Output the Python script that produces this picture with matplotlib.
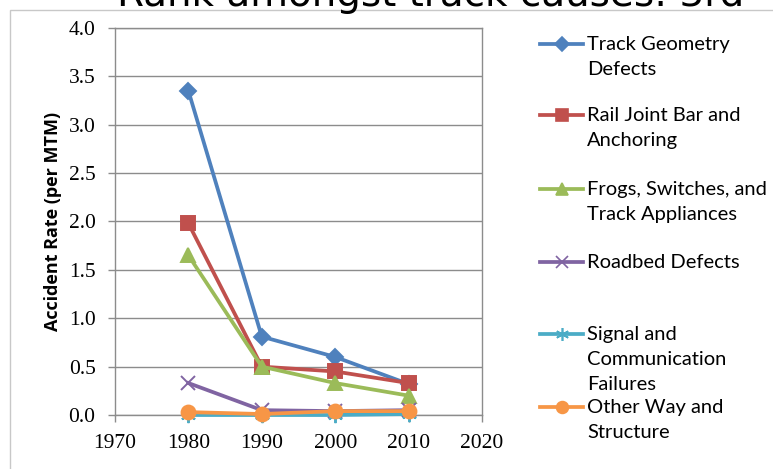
import matplotlib
matplotlib.use("Agg")
import matplotlib.pyplot as plt
from matplotlib.lines import Line2D
from matplotlib.patches import Rectangle

years = [1980, 1990, 2000, 2010]
track_geometry = [3.35, 0.81, 0.60, 0.32]
rail_joint = [1.98, 0.50, 0.45, 0.33]
frogs_switches = [1.65, 0.50, 0.33, 0.20]
roadbed = [0.33, 0.05, 0.04, 0.05]
signal_comm = [0.00, 0.00, 0.00, 0.01]
other_way = [0.03, 0.01, 0.04, 0.04]

series_names = [
    "Track Geometry\nDefects",
    "Rail Joint Bar and\nAnchoring",
    "Frogs, Switches, and\nTrack Appliances",
    "Roadbed Defects",
    "Signal and\nCommunication\nFailures",
    "Other Way and\nStructure",
]
series_values = [track_geometry, rail_joint, frogs_switches, roadbed, signal_comm, other_way]
colors = ["#4F81BD", "#C0504D", "#9BBB59", "#8064A2", "#4BACC6", "#F79646"]
markers = ["D", "s", "^", "x", (6, 2, 0), "o"]
msizes = [8, 10, 10, 10, 11, 10]

title = "Rank amongst track causes: 3rd"

fig = plt.figure(figsize=(7.73, 4.69), dpi=100)
ax = fig.add_axes([115 / 773, 1 - 415 / 469, 367 / 773, 387 / 469])

for vals, c, m, ms in zip(series_values, colors, markers, msizes):
    ax.plot(years, vals, color=c, lw=2.7, marker=m, ms=ms, mew=1.4,
            mec=c, mfc=c, solid_joinstyle="round", clip_on=False, zorder=3)

ax.set_xlim(1970, 2020)
ax.set_ylim(0, 4.0)
ax.set_xticks(range(1970, 2021, 10))
ax.set_yticks([i * 0.5 for i in range(9)])
ax.set_yticklabels(["%.1f" % (i * 0.5) for i in range(9)])
ax.yaxis.grid(True, color="#8c8c8c", lw=1.0)
ax.set_axisbelow(True)
for s in ax.spines.values():
    s.set_color("#8c8c8c")
    s.set_linewidth(1.0)
ax.tick_params(axis="both", colors="#8c8c8c", length=5, width=1.0, direction="out",
               labelcolor="black", labelsize=15.5)
for lab in ax.get_xticklabels() + ax.get_yticklabels():
    lab.set_fontfamily("Liberation Serif")
ax.tick_params(axis="y", pad=9)
ax.tick_params(axis="x", pad=9)
ax.set_ylabel("Accident Rate (per MTM)", fontfamily="Open Sans", fontweight="bold", fontsize=13,
              labelpad=5)

# outer chart border
fig.patches.append(Rectangle((10 / 773, -0.1), 1.2, 1 - 10 / 469 + 0.1, transform=fig.transFigure,
                             fill=False, ec="#c8c8c8", lw=1.0, zorder=0))

# title sits partly above the canvas
fig.text(431 / 773, 1 - 6 / 469, title, ha="center", va="baseline", fontsize=28,
         fontfamily="DejaVu Sans", color="black")

# legend, drawn by hand to keep the uneven row positions
rows_y = [44, 115, 189, 262, 334, 407]
for name, c, m, ms, y in zip(series_names, colors, markers, msizes, rows_y):
    yf = 1 - y / 469
    fig.add_artist(Line2D([540 / 773, 583 / 773], [yf, yf], transform=fig.transFigure,
                          color=c, lw=2.7))
    fig.add_artist(Line2D([561.5 / 773], [yf], transform=fig.transFigure, color=c, marker=m,
                          ms=ms * 0.85, mec=c, mfc=c, mew=1.2))
    for i, line in enumerate(name.split("\n")):
        fig.text(587 / 773, 1 - (y + 6 + 25 * i) / 469, line, ha="left", va="baseline",
                 fontsize=14.5, fontfamily="Lato")

fig.savefig("out.png", dpi=100)
